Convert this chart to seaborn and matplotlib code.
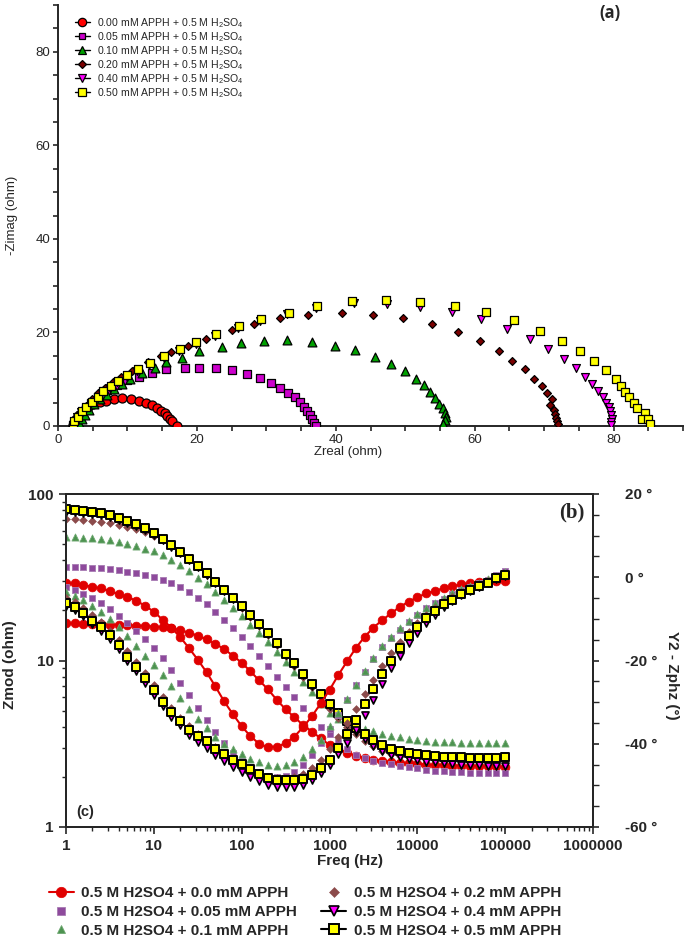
import matplotlib
matplotlib.use("Agg")
import matplotlib.pyplot as plt
import seaborn as sns
from matplotlib.lines import Line2D
from matplotlib.ticker import MultipleLocator, LogLocator, NullFormatter

# ---------------- panel (a): Nyquist data ----------------
nyq_labels = ["0.00 mM APPH + 0.5 M H$_2$SO$_4$", "0.05 mM APPH + 0.5 M H$_2$SO$_4$",
              "0.10 mM APPH + 0.5 M H$_2$SO$_4$", "0.20 mM APPH + 0.5 M H$_2$SO$_4$",
              "0.40 mM APPH + 0.5 M H$_2$SO$_4$", "0.50 mM APPH + 0.5 M H$_2$SO$_4$"]

zr_000 = [2.1, 2.3, 2.6, 3.0, 3.6, 4.3, 5.1, 6.0, 6.95, 8.06, 9.25, 10.45, 11.65, 12.7, 13.6,
          14.3, 14.9, 15.35, 15.7, 16.1, 16.45, 17.1]
zi_000 = [0.2, 0.8, 1.5, 2.3, 3.2, 4.0, 4.6, 5.1, 5.4, 5.7, 5.9, 5.7, 5.3, 5.0, 4.4,
          3.9, 3.3, 2.7, 2.1, 1.6, 1.1, 0.0]

zr_005 = [2.4, 2.8, 3.3, 4.0, 4.8, 5.8, 7.0, 8.5, 10.0, 11.65, 13.6, 15.5, 18.3, 20.3, 22.7,
          25.0, 27.2, 29.1, 30.7, 32.0, 33.1, 34.1, 34.8, 35.4, 35.9, 36.3, 36.6, 36.9, 37.1]
zi_005 = [0.5, 1.3, 2.4, 3.7, 5.0, 6.3, 7.6, 8.8, 9.8, 10.5, 11.3, 12.1, 12.4, 12.4, 12.3,
          11.9, 11.1, 10.3, 9.2, 8.2, 7.1, 6.1, 5.1, 4.1, 3.2, 2.3, 1.4, 0.7, 0.1]

zr_010 = [2.8, 3.0, 3.4, 3.9, 4.5, 5.2, 6.0, 7.0, 8.1, 9.25, 10.4, 12.1, 14.0, 15.5, 17.8,
          20.3, 23.6, 26.3, 29.6, 33.0, 36.6, 39.9, 42.7, 45.6, 47.9, 49.9, 51.6, 52.7, 53.6,
          54.3, 54.9, 55.4, 55.7, 55.9, 55.7, 55.4]
zi_010 = [0.1, 0.6, 1.4, 2.4, 3.5, 4.6, 5.7, 6.7, 7.9, 9.0, 10.1, 11.3, 12.5, 13.7, 14.6,
          16.0, 16.9, 17.7, 18.1, 18.3, 18.0, 17.2, 16.2, 14.8, 13.3, 11.8, 10.1, 8.7, 7.3,
          6.0, 4.8, 3.8, 2.8, 1.9, 1.2, 0.4]

zr_020 = [2.2, 2.4, 2.8, 3.4, 4.1, 4.9, 5.8, 6.8, 7.9, 9.0, 10.7, 12.9, 14.8, 16.3, 18.75,
          21.3, 25.0, 28.2, 32.0, 36.0, 40.9, 45.4, 49.7, 53.9, 57.6, 60.8, 63.5, 65.4, 67.3,
          68.6, 69.7, 70.4, 71.1, 70.8, 71.4, 71.6, 71.7, 71.8, 72.0]
zi_020 = [0.1, 0.6, 1.6, 2.9, 4.3, 5.7, 7.0, 8.2, 9.4, 10.5, 11.8, 13.7, 14.9, 15.8, 17.2,
          18.5, 20.6, 21.8, 23.0, 23.8, 24.2, 23.8, 23.0, 21.7, 20.1, 18.1, 16.0, 14.0, 12.1,
          10.1, 8.5, 7.0, 5.7, 4.5, 3.5, 2.5, 1.8, 1.1, 0.4]

zr_040 = [2.1, 2.3, 2.8, 3.3, 4.0, 4.8, 5.7, 6.4, 7.5, 8.5, 9.9, 11.4, 13.1, 15.2, 17.4,
          19.8, 22.6, 25.9, 29.1, 33.0, 37.2, 42.6, 47.4, 52.1, 56.7, 60.9, 64.7, 67.9, 70.6,
          72.9, 74.6, 75.9, 76.9, 77.7, 78.5, 78.9, 79.3, 79.5, 79.7, 79.8, 79.7, 79.7]
zi_040 = [0.2, 0.9, 1.9, 2.9, 3.9, 5.0, 6.0, 7.1, 8.2, 9.3, 10.5, 11.7, 13.1, 14.5, 16.0,
          17.5, 19.3, 20.9, 22.4, 24.0, 25.3, 26.2, 26.0, 25.4, 24.3, 22.8, 20.8, 18.7, 16.5,
          14.4, 12.4, 10.5, 8.9, 7.5, 6.1, 5.0, 4.1, 3.2, 2.3, 1.6, 0.9, 0.3]

zr_050 = [2.1, 2.3, 2.9, 3.4, 4.1, 4.9, 5.8, 6.5, 7.6, 8.6, 10.0, 11.5, 13.2, 15.3, 17.5,
          19.9, 22.7, 26.0, 29.2, 33.2, 37.3, 42.3, 47.3, 52.1, 57.1, 61.7, 65.7, 69.4, 72.6,
          75.2, 77.2, 78.9, 80.3, 81.0, 81.6, 82.2, 82.9, 83.4, 84.5, 84.1, 85.0, 85.2]
zi_050 = [0.3, 1.0, 2.0, 3.1, 4.1, 5.2, 6.3, 7.5, 8.6, 9.7, 10.9, 12.1, 13.5, 14.9, 16.4,
          17.9, 19.7, 21.3, 22.8, 24.2, 25.6, 26.7, 27.0, 26.6, 25.7, 24.3, 22.6, 20.3, 18.2,
          16.0, 13.8, 11.9, 10.1, 8.5, 7.3, 6.1, 5.0, 3.9, 2.8, 1.4, 1.4, 0.4]

# ---------------- panel (b): Bode data ----------------
bode_labels = ["0.5 M H2SO4 + 0.0 mM APPH", "0.5 M H2SO4 + 0.05 mM APPH",
               "0.5 M H2SO4 + 0.1 mM APPH", "0.5 M H2SO4 + 0.2 mM APPH",
               "0.5 M H2SO4 + 0.4 mM APPH", "0.5 M H2SO4 + 0.5 mM APPH"]

freq = [1, 1.26, 1.58, 2.0, 2.51, 3.16, 3.98, 5.01, 6.31, 7.94,
        10, 12.6, 15.8, 20.0, 25.1, 31.6, 39.8, 50.1, 63.1, 79.4,
        100, 126, 158, 200, 251, 316, 398, 501, 631, 794,
        1000, 1259, 1585, 1995, 2512, 3162, 3981, 5012, 6310, 7943,
        10000, 12589, 15849, 19953, 25119, 31623, 39811, 50119, 63096, 79433,
        100000]

zmod_000 = [16.7, 16.7, 16.6, 16.6, 16.5, 16.4, 16.4, 16.3, 16.2, 16.1,
            16.0, 15.8, 15.6, 15.2, 14.7, 14.1, 13.4, 12.6, 11.7, 10.7,
            9.7, 8.6, 7.6, 6.7, 5.8, 5.1, 4.56, 4.1, 3.74, 3.41,
            3.11, 2.95, 2.80, 2.68, 2.60, 2.54, 2.49, 2.46, 2.43, 2.41,
            2.39, 2.37, 2.36, 2.35, 2.34, 2.33, 2.32, 2.32, 2.31, 2.31, 2.30]
phase_000 = [-1.4, -1.5, -1.9, -2.3, -2.7, -3.3, -4.1, -4.7, -5.7, -6.8,
             -8.3, -10.2, -12.1, -14.4, -17.0, -19.8, -22.8, -26.2, -29.8, -32.9,
             -35.8, -38.2, -40.0, -40.9, -40.7, -39.9, -38.3, -36.0, -33.4, -30.3,
             -27.1, -23.5, -20.2, -17.0, -14.3, -12.1, -10.3, -8.7, -7.1, -5.9,
             -4.8, -3.9, -3.3, -2.6, -2.2, -1.7, -1.4, -1.1, -1.0, -0.9, -0.9]

zmod_005 = [36.6, 36.6, 36.3, 36.1, 35.8, 35.5, 35.0, 34.2, 33.4, 32.6,
            31.7, 30.6, 29.2, 27.5, 25.8, 23.8, 21.9, 19.6, 17.6, 15.6,
            13.8, 12.2, 10.6, 9.3, 8.0, 6.97, 6.0, 5.2, 4.55, 4.0,
            3.6, 3.25, 2.95, 2.72, 2.58, 2.49, 2.43, 2.39, 2.32, 2.28,
            2.25, 2.21, 2.18, 2.16, 2.14, 2.13, 2.12, 2.11, 2.10, 2.10, 2.10]
phase_005 = [-2.3, -3.0, -4.0, -5.0, -6.3, -7.7, -9.3, -11.0, -12.9, -14.9,
             -16.9, -19.5, -22.3, -25.3, -28.4, -31.3, -34.3, -37.2, -39.9, -42.2,
             -44.2, -45.8, -47.0, -47.8, -48.0, -47.7, -46.7, -45.0, -42.7, -39.8,
             -36.5, -33.0, -29.5, -26.0, -22.8, -19.7, -16.8, -14.6, -12.6, -10.7,
             -9.1, -7.5, -6.3, -5.3, -4.1, -3.1, -2.3, -1.4, -0.6, 0.5, 1.5]

zmod_010 = [55.0, 55.0, 54.6, 54.5, 53.8, 52.8, 51.6, 50.4, 48.6, 46.9,
            45.4, 42.8, 40.4, 37.3, 34.4, 31.5, 28.7, 25.8, 23.1, 20.6,
            18.4, 16.4, 14.6, 12.9, 11.3, 9.8, 8.57, 7.47, 6.5, 5.5,
            4.85, 4.45, 4.18, 4.0, 3.9, 3.76, 3.64, 3.54, 3.46, 3.4,
            3.35, 3.3, 3.26, 3.24, 3.22, 3.21, 3.2, 3.19, 3.19, 3.18, 3.18]
phase_010 = [-3.5, -4.4, -5.5, -6.8, -8.3, -10.0, -12.0, -14.2, -16.5, -18.8,
             -21.2, -23.6, -26.2, -29.0, -31.6, -34.0, -36.1, -38.4, -40.0, -41.2,
             -42.4, -43.6, -44.4, -45.1, -45.4, -45.2, -44.4, -43.2, -41.3, -39.0,
             -35.7, -32.5, -29.2, -26.0, -22.6, -19.5, -16.5, -14.3, -12.3, -10.5,
             -8.9, -7.4, -6.1, -5.0, -3.9, -2.9, -2.1, -1.3, -0.5, 0.4, 1.2]

zmod_020 = [70.8, 70.5, 69.9, 69.2, 68.1, 66.6, 65.1, 63.6, 61.6, 59.3,
            56.1, 52.8, 48.6, 44.2, 40.3, 36.5, 32.8, 29.2, 26.0, 23.3,
            20.7, 18.3, 16.2, 14.2, 12.4, 10.7, 9.3, 8.0, 6.95, 6.0,
            5.1, 4.5, 4.0, 3.6, 3.3, 3.05, 2.88, 2.76, 2.68, 2.62,
            2.58, 2.55, 2.53, 2.52, 2.51, 2.50, 2.50, 2.49, 2.49, 2.49, 2.49]
phase_020 = [-4.9, -5.9, -7.4, -9.1, -10.8, -12.8, -15.1, -17.8, -20.4, -23.1,
             -26.0, -28.8, -31.4, -33.7, -35.8, -37.6, -39.1, -40.8, -42.2, -43.6,
             -44.8, -46.0, -47.1, -47.9, -48.3, -48.4, -48.1, -47.3, -45.9, -43.9,
             -41.3, -38.3, -35.0, -31.6, -28.0, -24.6, -21.3, -18.3, -15.6, -13.1,
             -10.9, -9.0, -7.4, -6.0, -4.7, -3.6, -2.6, -1.7, -0.9, -0.1, 0.6]

zmod_040 = [78.3, 77.7, 76.8, 75.5, 74.3, 72.6, 70.0, 67.2, 64.3, 61.2,
            56.7, 52.9, 48.2, 44.1, 40.2, 36.4, 32.7, 29.1, 26.0, 23.4,
            20.9, 18.5, 16.4, 14.4, 12.6, 10.8, 9.4, 8.15, 7.05, 6.15,
            5.35, 4.7, 4.15, 3.72, 3.36, 3.08, 2.86, 2.72, 2.62, 2.56,
            2.51, 2.47, 2.44, 2.41, 2.39, 2.37, 2.36, 2.35, 2.34, 2.34, 2.33]
phase_040 = [-6.8, -7.8, -9.4, -11.2, -12.8, -14.8, -17.2, -20.0, -22.6, -25.3,
             -28.2, -31.0, -33.5, -35.6, -37.8, -39.5, -41.0, -42.8, -44.2, -45.5,
             -46.7, -47.9, -49.0, -49.8, -50.3, -50.4, -50.3, -49.8, -48.6, -47.0,
             -45.0, -42.5, -39.8, -36.6, -33.2, -29.6, -25.6, -21.9, -18.8, -15.9,
             -13.4, -11.0, -9.1, -7.1, -5.6, -4.3, -3.2, -2.3, -1.4, -0.5, 0.3]

zmod_050 = [81.0, 80.2, 79.2, 77.8, 76.8, 74.9, 72.1, 69.2, 66.2, 62.9,
            58.1, 53.9, 49.3, 44.9, 40.8, 37.1, 33.4, 29.7, 26.5, 23.7,
            21.2, 18.8, 16.6, 14.6, 12.7, 11.0, 9.6, 8.3, 7.2, 6.3,
            5.47, 4.85, 4.35, 3.95, 3.6, 3.33, 3.1, 2.95, 2.86, 2.79,
            2.74, 2.71, 2.68, 2.65, 2.63, 2.62, 2.61, 2.61, 2.61, 2.61, 2.62]
phase_050 = [-6.2, -7.1, -8.7, -10.5, -11.9, -13.9, -16.3, -19.2, -21.6, -24.2,
             -27.2, -30.0, -32.4, -34.6, -36.6, -38.1, -39.4, -41.2, -42.5, -43.8,
             -44.8, -46.0, -47.2, -48.2, -48.6, -48.8, -48.8, -48.4, -47.6, -45.8,
             -43.8, -41.0, -37.7, -34.4, -30.4, -26.8, -23.2, -20.0, -16.9, -14.2,
             -11.9, -9.9, -8.2, -6.5, -5.4, -4.1, -3.0, -2.2, -1.3, -0.3, 0.5]

# ---------------- style ----------------
sns.set_style("ticks")
plt.rcParams['font.family'] = ['Liberation Sans', 'DejaVu Sans']
plt.rcParams['mathtext.fontset'] = 'custom'
plt.rcParams['mathtext.rm'] = 'Liberation Sans'
plt.rcParams['axes.linewidth'] = 1.4

W, H = 685, 939
fig = plt.figure(figsize=(W / 100, H / 100), dpi=100)

def px(x, y):
    return x / W, 1 - y / H

# ---------- panel (a) ----------
ax_a = fig.add_axes([58 / W, 1 - 426 / H, 625 / W, 421 / H])

nyq_x = [zr_000, zr_005, zr_010, zr_020, zr_040, zr_050]
nyq_y = [zi_000, zi_005, zi_010, zi_020, zi_040, zi_050]
nyq_marker = ['o', 's', '^', 'D', 'v', 's']
nyq_face = ['#ff0000', '#cc00cc', '#00a000', '#7a0000', '#ff00ff', '#ffff00']
nyq_size = [42, 26, 40, 16, 32, 36]
nyq_ms = [6.0, 5.0, 6.0, 4.0, 5.5, 5.8]

for xs, ys, m, fc, s in zip(nyq_x, nyq_y, nyq_marker, nyq_face, nyq_size):
    sns.scatterplot(x=xs, y=ys, ax=ax_a, marker=m, s=s, color=fc,
                    edgecolor='black', linewidth=0.9, zorder=3)

ax_a.set_xlim(0, 90)
ax_a.set_ylim(0, 90)
ax_a.xaxis.set_major_locator(MultipleLocator(20))
ax_a.xaxis.set_minor_locator(MultipleLocator(5))
ax_a.yaxis.set_major_locator(MultipleLocator(20))
ax_a.yaxis.set_minor_locator(MultipleLocator(5))
ax_a.tick_params(which='both', direction='out', length=3.5, width=1.2, labelsize=9.5, pad=2)
sns.despine(ax=ax_a)

handles_a = [Line2D([], [], color='black', lw=1.0, marker=m, ms=ms, mfc=fc, mec='black', mew=0.9)
             for m, fc, ms in zip(nyq_marker, nyq_face, nyq_ms)]
ax_a.legend(handles_a, nyq_labels, loc='upper left', bbox_to_anchor=(0.02, 0.984),
            frameon=False, fontsize=7.6, handlelength=1.4, handletextpad=0.7,
            labelspacing=0.02, borderaxespad=0)

fig.text(*px(12, 215), '-Zimag (ohm)', rotation=90, ha='center', va='center', fontsize=9.5)
fig.text(*px(348, 452), 'Zreal (ohm)', ha='center', va='center', fontsize=9.5)
fig.text(*px(610, 13), '(a)', ha='center', va='center', fontsize=12,
         fontweight='bold', family=['Open Sans', 'DejaVu Sans'])

# ---------- panel (b) ----------
ax_b = fig.add_axes([66 / W, 1 - 827 / H, 527 / W, 333 / H])
ax_b.set_xscale('log')
ax_b.set_yscale('log')
ax_p = ax_b.twinx()

bode_z = [zmod_000, zmod_005, zmod_010, zmod_020, zmod_040, zmod_050]
bode_p = [phase_000, phase_005, phase_010, phase_020, phase_040, phase_050]
bode_marker = ['o', 's', '^', 'D', 'v', 's']
bode_face = ['#e00000', '#8e4a9c', '#4d9350', '#8c4b4b', '#ff00ff', '#ffff00']
bode_edge = ['#e00000', '#a77bb3', '#6fa872', '#8c4b4b', 'black', 'black']
bode_size = [40, 24, 26, 16, 26, 26]
bode_ms = [7.5, 6.0, 6.0, 4.6, 6.5, 6.5]
bode_lw = [0.5, 0.6, 0.6, 0.4, 1.2, 1.4]

for i in range(6):
    if i == 0:
        sns.lineplot(x=freq, y=bode_z[i], ax=ax_b, color=bode_face[i], lw=1.5, sort=False)
        sns.lineplot(x=freq, y=bode_p[i], ax=ax_p, color=bode_face[i], lw=1.5, sort=False)
    sns.scatterplot(x=freq, y=bode_z[i], ax=ax_b, marker=bode_marker[i], s=bode_size[i],
                    color=bode_face[i], edgecolor=bode_edge[i], linewidth=bode_lw[i], zorder=3)
    sns.scatterplot(x=freq, y=bode_p[i], ax=ax_p, marker=bode_marker[i], s=bode_size[i],
                    color=bode_face[i], edgecolor=bode_edge[i], linewidth=bode_lw[i], zorder=3)

ax_b.set_xlim(1, 1e6)
ax_b.set_ylim(1, 100)
ax_b.set_xticks([1, 10, 100, 1000, 10000, 100000, 1000000],
                ['1', '10', '100', '1000', '10000', '100000', '1000000'], fontweight='bold')
ax_b.set_yticks([1, 10, 100], ['1', '10', '100'], fontweight='bold')
ax_b.xaxis.set_minor_locator(LogLocator(base=10, subs=range(2, 10), numticks=20))
ax_b.yaxis.set_minor_locator(LogLocator(base=10, subs=range(2, 10), numticks=20))
ax_b.xaxis.set_minor_formatter(NullFormatter())
ax_b.yaxis.set_minor_formatter(NullFormatter())
ax_b.tick_params(which='major', direction='out', length=5, width=1.2, labelsize=11, pad=4)
ax_b.tick_params(which='minor', direction='out', length=3, width=1.0)
ax_b.set_xlabel('')
ax_b.set_ylabel('')

ax_p.set_ylim(-60, 20)
ax_p.set_yticks([-60, -40, -20, 0, 20], ['-60 °', '-40 °', '-20 °', '0 °', '20 °'],
                fontweight='bold')
ax_p.yaxis.set_minor_locator(MultipleLocator(5))
ax_p.tick_params(which='major', direction='out', length=4, width=1.2, labelsize=11, pad=19)
ax_p.tick_params(which='minor', direction='out', length=4, width=1.0)
ax_p.set_ylabel('')

fig.text(*px(10, 665), 'Zmod (ohm)', rotation=90, ha='center', va='center',
         fontsize=11, fontweight='bold')
fig.text(*px(672, 675), 'Y2 - Zphz (°)', rotation=270, ha='center', va='center',
         fontsize=11, fontweight='bold')
fig.text(*px(350, 861), 'Freq (Hz)', ha='center', va='center', fontsize=11, fontweight='bold')
fig.text(*px(572, 512), '(b)', ha='center', va='center', fontsize=15,
         fontweight='bold', family=['Liberation Serif', 'DejaVu Serif'])
fig.text(*px(85, 812), '(c)', ha='center', va='center', fontsize=10.5, fontweight='bold')

# bottom legend
line_cols = ['#e00000', None, None, None, 'black', 'black']
handles_b = []
for i in range(6):
    handles_b.append(Line2D([], [], color=line_cols[i] or 'none', lw=1.5,
                            linestyle='-' if line_cols[i] else 'none',
                            marker=bode_marker[i], ms=bode_ms[i], mfc=bode_face[i],
                            mec=bode_edge[i], mew=bode_lw[i]))
fig.legend(handles_b, bode_labels, ncol=2, loc='center', bbox_to_anchor=px(305, 912),
           frameon=False, prop={'weight': 'bold', 'size': 11}, handlelength=1.6,
           handletextpad=0.5, columnspacing=1.6, labelspacing=0.3)

fig.savefig('out.png', dpi=100)
